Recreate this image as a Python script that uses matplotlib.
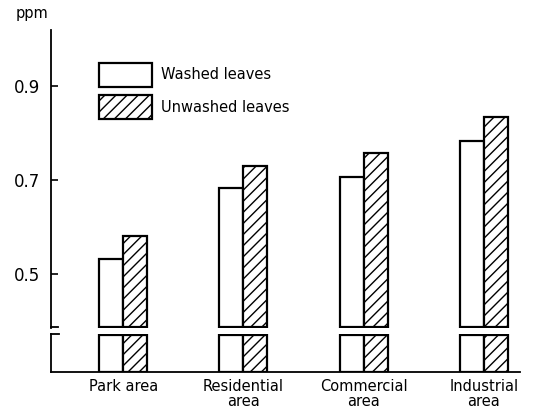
import matplotlib
matplotlib.use("Agg")
import matplotlib.pyplot as plt
import numpy as np

plt.rcParams['font.family'] = ['DejaVu Sans']
plt.rcParams['hatch.linewidth'] = 1.0

categories = ["Park area", "Residential\narea", "Commercial\narea", "Industrial\narea"]
washed = [0.532, 0.683, 0.706, 0.782]
unwashed = [0.582, 0.730, 0.757, 0.834]
yticks = [0.5, 0.7, 0.9]
series_names = ["Washed leaves", "Unwashed leaves"]

fig = plt.figure(figsize=(5.43, 4.18), dpi=100)
ax_up = fig.add_axes([0.0939, 0.2153, 0.8637, 0.7129])
ax_lo = fig.add_axes([0.0939, 0.110, 0.8637, 0.0909])

x = np.arange(len(categories))
w = 0.2
ybreak = 0.388
lw = 1.6

for ax in (ax_up, ax_lo):
    ax.set_xlim(-0.6, 3.3)
    for s in ("top", "right"):
        ax.spines[s].set_visible(False)
    ax.spines["left"].set_linewidth(1.3)

# upper panel
b1 = ax_up.bar(x - w / 2, np.array(washed) - ybreak, w, bottom=ybreak,
               facecolor="white", edgecolor="black", linewidth=lw, label=series_names[0])
b2 = ax_up.bar(x + w / 2, np.array(unwashed) - ybreak, w, bottom=ybreak,
               facecolor="white", edgecolor="black", linewidth=lw, hatch="///", label=series_names[1])
ax_up.set_ylim(ybreak - 0.002, 1.018)
ax_up.spines["bottom"].set_visible(False)
ax_up.set_xticks([])
ax_up.set_yticks(yticks)
ax_up.set_yticklabels([f"{v:.1f}" for v in yticks], fontsize=12)
ax_up.tick_params(axis="y", direction="in", length=5, width=1.2, pad=8)
ax_up.plot([0, 0.015], [ybreak, ybreak], transform=ax_up.get_yaxis_transform(),
           color="black", lw=1.3, clip_on=False)
ax_up.text(-0.04, 1.03, "ppm", transform=ax_up.transAxes, fontsize=10.5,
           ha="center", va="bottom")

leg = ax_up.legend(handles=[b1, b2], loc="upper left", bbox_to_anchor=(0.075, 0.935),
                   frameon=False, fontsize=10.5, handlelength=3.6, handleheight=2.2,
                   handletextpad=0.6, labelspacing=0.55)

# lower panel
ax_lo.bar(x - w / 2, [1.0] * len(x), w, facecolor="white", edgecolor="black", linewidth=lw)
ax_lo.bar(x + w / 2, [1.0] * len(x), w, facecolor="white", edgecolor="black", linewidth=lw, hatch="///")
ax_lo.set_ylim(0, 1.02)
ax_lo.set_yticks([])
ax_lo.spines["bottom"].set_linewidth(1.3)
ax_lo.plot([0, 0.018], [1.0, 1.0], transform=ax_lo.transAxes,
           color="black", lw=1.3, clip_on=False)
ax_lo.set_xticks(x)
ax_lo.set_xticklabels(categories, fontsize=10.5, linespacing=1.0)
ax_lo.tick_params(axis="x", length=0, pad=5)

fig.savefig("out.png", dpi=100)
